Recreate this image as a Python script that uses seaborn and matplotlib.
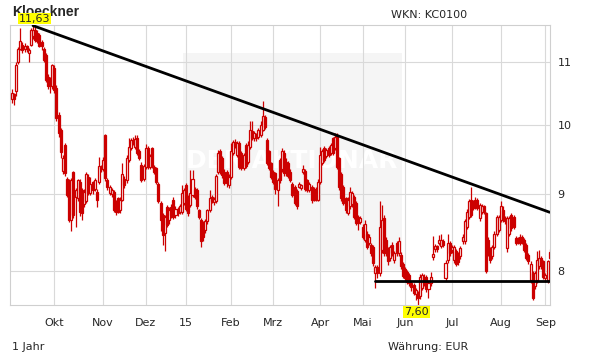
import numpy as np
import pandas as pd
import matplotlib
matplotlib.use('Agg')
import matplotlib.pyplot as plt
import seaborn as sns
from matplotlib.ticker import NullLocator
from matplotlib.patches import Rectangle

# Kloeckner daily candles, 3 Sep 2014 - 3 Sep 2015
opens = [
    10.40, 10.48, 10.52, 11.00, 11.22, 11.30, 11.22, 11.27, 11.15, 11.30,
    11.45, 11.56, 11.50, 11.47, 11.34, 11.22, 11.12, 10.76, 10.74, 10.60,
    10.90, 10.58, 10.15, 9.92, 9.32, 9.70, 9.21, 9.16, 8.65, 9.30,
    8.96, 8.94, 9.17, 9.05, 8.86, 8.90, 9.24, 9.01, 9.16, 9.07,
    9.03, 9.17, 9.37, 9.35, 9.85, 9.19, 9.01, 9.00, 9.03, 8.90,
    8.94, 8.78, 8.92, 9.21, 9.19, 9.48, 9.65, 9.77, 9.67, 9.80,
    9.60, 9.41, 9.21, 9.38, 9.65, 9.38, 9.65, 9.37, 9.36, 9.14,
    8.87, 8.71, 8.48, 8.82, 8.65, 8.82, 8.92, 8.72, 8.80, 8.76,
    8.76, 8.88, 9.12, 8.96, 8.85, 8.99, 9.07, 9.05, 8.78, 8.65,
    8.60, 8.52, 8.63, 8.78, 8.96, 8.89, 8.90, 9.30, 9.60, 9.50,
    9.31, 9.30, 9.12, 9.24, 9.58, 9.74, 9.55, 9.72, 9.58, 9.36,
    9.70, 9.45, 9.67, 9.90, 9.80, 9.85, 9.82, 9.85, 9.92, 10.12,
    9.77, 9.60, 9.43, 9.31, 9.29, 9.05, 9.48, 9.34, 9.58, 9.45,
    9.43, 9.31, 9.14, 9.10, 9.04, 9.10, 9.08, 9.30, 9.32, 9.19,
    9.05, 9.10, 9.07, 9.07, 8.92, 9.17, 9.43, 9.65, 9.53, 9.65,
    9.58, 9.80, 9.65, 9.85, 9.50, 9.27, 9.09, 8.94, 8.74, 8.83,
    8.86, 8.96, 8.87, 8.69, 8.62, 8.56, 8.39, 8.47, 8.35, 8.33,
    8.30, 7.97, 8.05, 7.97, 8.26, 8.67, 8.39, 8.26, 8.16, 8.33,
    8.14, 8.35, 8.22, 8.20, 8.09, 8.03, 7.99, 7.95, 7.85, 7.83,
    7.72, 7.74, 7.70, 7.80, 7.93, 7.93, 7.78, 7.85, 8.17, 8.27,
    8.31, 8.35, 8.31, 8.37, 7.92,
    8.14, 8.35, 8.26, 8.14, 8.25, 8.22, 8.18, 8.37, 8.37, 8.56,
    8.69, 8.92, 8.90, 8.92, 8.92, 8.67, 8.76, 8.83, 8.74, 8.39,
    8.28, 8.18, 8.30, 8.47, 8.52, 8.65, 8.78, 8.67, 8.28, 8.47,
    8.71, 8.69, 8.41, 8.41, 8.43, 8.43, 8.39, 8.33, 8.20, 7.89,
    7.97, 7.82, 7.89, 8.06, 8.16, 8.12, 7.91, 7.89, 8.24,
]
highs = [
    10.56, 10.50, 11.00, 11.25, 11.58, 11.34, 11.32, 11.30, 11.24, 11.58,
    11.63, 11.60, 11.55, 11.50, 11.37, 11.25, 11.15, 10.80, 10.76, 10.97,
    10.95, 10.62, 10.20, 9.95, 9.55, 9.72, 9.24, 9.20, 9.22, 9.32,
    9.08, 9.21, 9.20, 9.08, 9.06, 9.30, 9.27, 9.24, 9.18, 9.22,
    9.06, 9.52, 9.40, 9.52, 9.86, 9.22, 9.12, 9.08, 9.05, 8.92,
    8.96, 8.95, 9.43, 9.25, 9.55, 9.80, 9.80, 9.82, 9.84, 9.84,
    9.64, 9.44, 9.42, 9.71, 9.68, 9.56, 9.67, 9.40, 9.38, 9.16,
    8.90, 8.74, 8.72, 8.85, 8.82, 8.86, 8.95, 8.83, 8.82, 8.86,
    9.12, 9.08, 9.15, 8.98, 9.33, 9.33, 9.10, 9.08, 8.80, 8.68,
    8.63, 8.66, 8.80, 9.05, 8.98, 8.96, 9.28, 9.62, 9.63, 9.53,
    9.34, 9.33, 9.28, 9.72, 9.77, 9.78, 9.75, 9.75, 9.60, 9.58,
    9.72, 9.75, 10.06, 10.06, 9.90, 9.88, 9.95, 10.06, 10.37, 10.15,
    9.80, 9.62, 9.45, 9.33, 9.30, 9.22, 9.50, 9.65, 9.62, 9.50,
    9.46, 9.34, 9.17, 9.12, 9.07, 9.16, 9.14, 9.40, 9.34, 9.21,
    9.16, 9.12, 9.10, 9.10, 9.20, 9.67, 9.63, 9.68, 9.65, 9.68,
    9.73, 9.82, 9.87, 9.87, 9.52, 9.30, 9.12, 8.96, 8.95, 9.10,
    9.04, 8.99, 8.90, 8.72, 8.70, 8.59, 8.65, 8.50, 8.46, 8.35,
    8.32, 8.08, 8.07, 8.90, 8.85, 8.72, 8.42, 8.30, 8.33, 8.36,
    8.25, 8.38, 8.42, 8.23, 8.11, 8.05, 8.01, 7.97, 7.88, 7.85,
    7.80, 7.76, 7.96, 7.98, 7.96, 7.95, 7.88, 7.99, 8.44, 8.34,
    8.33, 8.45, 8.47, 8.40, 8.13,
    8.46, 8.38, 8.33, 8.33, 8.27, 8.24, 8.31, 8.46, 8.66, 8.79,
    8.93, 9.10, 8.92, 8.95, 8.94, 8.88, 8.86, 8.85, 8.76, 8.42,
    8.30, 8.33, 8.50, 8.72, 8.72, 8.90, 8.83, 8.70, 8.70, 8.70,
    8.74, 8.72, 8.44, 8.43, 8.46, 8.45, 8.41, 8.35, 8.22, 8.12,
    8.00, 8.00, 8.25, 8.26, 8.19, 8.14, 7.97, 8.14, 8.27,
]
lows = [
    10.34, 10.30, 10.45, 10.97, 11.20, 11.15, 11.18, 11.18, 11.00, 11.28,
    11.40, 11.35, 11.32, 11.25, 11.20, 11.00, 10.68, 10.56, 10.50, 10.56,
    10.50, 10.05, 9.82, 9.50, 9.28, 9.25, 8.95, 8.62, 8.50, 8.68,
    8.56, 8.90, 8.70, 8.65, 8.82, 8.87, 8.98, 8.98, 9.00, 9.04,
    8.82, 9.14, 9.30, 9.32, 9.18, 9.05, 8.98, 8.96, 8.75, 8.72,
    8.74, 8.74, 8.90, 9.08, 9.15, 9.45, 9.62, 9.70, 9.64, 9.55,
    9.47, 9.16, 9.18, 9.35, 9.35, 9.35, 9.36, 9.28, 9.14, 8.87,
    8.50, 8.33, 8.25, 8.55, 8.60, 8.68, 8.66, 8.68, 8.70, 8.73,
    8.73, 8.85, 8.77, 8.70, 8.82, 8.96, 8.93, 8.80, 8.66, 8.30,
    8.38, 8.48, 8.60, 8.75, 8.87, 8.85, 8.87, 9.27, 9.28, 9.22,
    9.12, 9.10, 9.08, 9.20, 9.55, 9.65, 9.52, 9.35, 9.33, 9.33,
    9.36, 9.42, 9.64, 9.77, 9.76, 9.76, 9.78, 9.82, 9.90, 9.94,
    9.40, 9.33, 9.20, 9.13, 9.00, 8.83, 9.15, 9.30, 9.25, 9.25,
    9.22, 9.16, 8.96, 8.85, 8.79, 9.08, 9.05, 9.27, 9.04, 9.02,
    9.02, 8.88, 8.90, 8.90, 8.90, 9.14, 9.40, 9.45, 9.50, 9.52,
    9.55, 9.55, 9.62, 9.35, 9.05, 8.90, 8.85, 8.74, 8.72, 8.80,
    8.82, 8.66, 8.58, 8.52, 8.60, 8.40, 8.36, 8.27, 8.32, 8.19,
    8.06, 7.79, 7.92, 7.94, 8.22, 8.18, 8.18, 8.08, 8.12, 8.19,
    8.10, 8.19, 8.19, 8.03, 7.91, 7.88, 7.84, 7.82, 7.76, 7.71,
    7.65, 7.60, 7.67, 7.77, 7.82, 7.75, 7.68, 7.82, 8.14, 8.24,
    8.24, 8.32, 8.28, 8.30, 7.88,
    8.10, 8.19, 8.22, 8.10, 8.06, 8.08, 8.15, 8.34, 8.34, 8.53,
    8.66, 8.69, 8.78, 8.80, 8.78, 8.64, 8.73, 8.73, 7.98, 8.18,
    8.10, 8.15, 8.27, 8.44, 8.49, 8.62, 8.62, 8.60, 8.24, 8.44,
    8.50, 8.53, 8.32, 8.34, 8.32, 8.34, 8.23, 8.13, 8.09, 7.86,
    7.66, 7.78, 7.86, 8.03, 8.03, 7.90, 7.87, 7.86, 8.13,
]
closes = [
    10.50, 10.40, 10.95, 11.23, 11.36, 11.20, 11.28, 11.22, 11.20, 11.56,
    11.55, 11.38, 11.36, 11.27, 11.27, 11.03, 10.71, 10.60, 10.60, 10.95,
    10.55, 10.10, 9.87, 9.59, 9.51, 9.29, 8.98, 8.65, 9.19, 8.72,
    9.05, 9.19, 8.76, 8.74, 9.03, 9.27, 9.01, 9.14, 9.05, 9.19,
    8.92, 9.39, 9.35, 9.48, 9.22, 9.10, 9.10, 9.05, 8.78, 8.76,
    8.76, 8.92, 9.28, 9.12, 9.50, 9.67, 9.77, 9.72, 9.78, 9.58,
    9.50, 9.19, 9.39, 9.65, 9.38, 9.53, 9.39, 9.31, 9.17, 8.90,
    8.65, 8.45, 8.69, 8.58, 8.78, 8.72, 8.69, 8.80, 8.74, 8.83,
    9.01, 9.05, 8.80, 8.74, 9.01, 9.21, 8.96, 8.83, 8.69, 8.37,
    8.42, 8.63, 8.78, 8.94, 8.90, 8.93, 9.25, 9.58, 9.32, 9.26,
    9.15, 9.15, 9.24, 9.60, 9.74, 9.68, 9.72, 9.38, 9.36, 9.55,
    9.39, 9.70, 9.92, 9.80, 9.87, 9.80, 9.92, 9.99, 10.14, 9.97,
    9.43, 9.36, 9.24, 9.17, 9.07, 9.19, 9.19, 9.60, 9.29, 9.29,
    9.25, 9.19, 8.99, 8.88, 8.83, 9.14, 9.12, 9.35, 9.07, 9.05,
    9.14, 8.92, 8.92, 8.94, 9.17, 9.55, 9.60, 9.48, 9.62, 9.55,
    9.70, 9.58, 9.82, 9.38, 9.10, 8.94, 8.88, 8.78, 8.92, 9.03,
    9.01, 8.69, 8.61, 8.61, 8.67, 8.43, 8.60, 8.30, 8.43, 8.22,
    8.10, 8.05, 7.97, 8.56, 8.65, 8.22, 8.22, 8.12, 8.30, 8.22,
    8.22, 8.22, 8.37, 8.06, 7.94, 7.91, 7.87, 7.85, 7.81, 7.74,
    7.77, 7.68, 7.93, 7.95, 7.85, 7.78, 7.86, 7.93, 8.21, 8.31,
    8.27, 8.39, 8.39, 8.33, 8.10,
    8.35, 8.22, 8.30, 8.30, 8.09, 8.11, 8.29, 8.43, 8.63, 8.76,
    8.90, 8.72, 8.81, 8.83, 8.81, 8.85, 8.83, 8.76, 8.00, 8.22,
    8.14, 8.30, 8.47, 8.69, 8.69, 8.83, 8.65, 8.63, 8.67, 8.67,
    8.54, 8.56, 8.35, 8.37, 8.35, 8.37, 8.26, 8.16, 8.12, 8.09,
    7.68, 7.97, 8.14, 8.16, 8.06, 7.93, 7.95, 8.12, 8.16,
]

month_labels = ['Okt', 'Nov', 'Dez', '15', 'Feb', 'Mrz', 'Apr', 'Mai', 'Jun', 'Jul', 'Aug', 'Sep']
price_ticks = [8, 9, 10, 11]
holidays = ['2014-12-24', '2014-12-25', '2014-12-26', '2014-12-31', '2015-01-01',
            '2015-04-03', '2015-04-06', '2015-05-01']

# trend lines drawn on the chart
resistance_end = 8.75
support_level = 7.88
support_start = '2015-05-12'

N = len(closes)
dates = pd.bdate_range(end='2015-09-03', periods=N, freq='C', holidays=holidays)
df = pd.DataFrame({'date': dates, 'open': opens, 'high': highs, 'low': lows, 'close': closes})
df['pos'] = np.arange(N)

months = dates.to_period('M')
month_pos = [i for i in range(1, N) if months[i] != months[i - 1]]

sns.set_style('white')
plt.rcParams['font.family'] = ['DejaVu Sans']

fig = plt.figure(figsize=(6.11, 3.64), dpi=100)
ax = fig.add_axes([10.3 / 611, 59 / 364, 539.7 / 611, 280 / 364])
ax.set_yscale('log')

red = '#cc0000'
up = df['close'] >= df['open']

# watermark block
ax.add_patch(Rectangle((0.32, 0.125), 0.405, 0.776, transform=ax.transAxes,
                       facecolor='#f5f5f5', edgecolor='none', zorder=0.1))
ax.text(0.522, 0.515, 'DER AKTIONÄR', transform=ax.transAxes, ha='center', va='center',
        fontsize=18, fontweight='bold', color='white', zorder=0.3)

ax.vlines(df['pos'], df['low'], df['high'], color=red, lw=0.9, zorder=2)
ax.bar(df['pos'], (df['close'] - df['open']).abs(), bottom=df[['open', 'close']].min(axis=1),
       width=0.95, color=np.where(up, 'white', red), edgecolor=red, linewidth=0.9, zorder=3)

i_hi = int(df['high'].idxmax())
i_lo = int(df['low'].idxmin())
x_right = N - 1 + 0.15
sup_pos = int(np.searchsorted(dates, pd.Timestamp(support_start)))

sns.lineplot(x=[i_hi, N - 1], y=[df['high'].max(), resistance_end], color='black',
             lw=2, ax=ax, zorder=4)
sns.lineplot(x=[sup_pos, x_right], y=[support_level, support_level], color='black',
             lw=2, ax=ax, zorder=4)

ax.annotate(f"{df['high'].max():.2f}".replace('.', ','),
            xy=(i_hi, df['high'].max()), xytext=(1, 1.5), textcoords='offset points',
            ha='center', va='bottom', fontsize=8, annotation_clip=False, zorder=6,
            bbox=dict(boxstyle='square,pad=0.08', fc='#ffff00', ec='none'))
ax.annotate(f"{df['low'].min():.2f}".replace('.', ','),
            xy=(i_lo, df['low'].min()), xytext=(-1, -1.5), textcoords='offset points',
            ha='center', va='top', fontsize=8, annotation_clip=False, zorder=6,
            bbox=dict(boxstyle='square,pad=0.08', fc='#ffff00', ec='none'))

ax.set_xlim(-0.7, x_right)
ax.set_ylim(df['low'].min() * 0.9995, df['high'].max() * 1.001)

ax.set_xticks(month_pos)
ax.set_xticklabels(month_labels)
ax.set_yticks(price_ticks)
ax.set_yticklabels([str(t) for t in price_ticks])
ax.yaxis.set_minor_locator(NullLocator())
ax.yaxis.tick_right()
ax.tick_params(axis='x', length=0, pad=9, labelsize=8)
ax.tick_params(axis='y', length=0, pad=5.5, labelsize=8)

ax.set_axisbelow(True)
ax.grid(True, color='#d9d9d9', lw=0.8)
for s in ax.spines.values():
    s.set_color('#cfcfcf')
    s.set_linewidth(0.8)
ax.set_xlabel('')
ax.set_ylabel('')

# title sits under the yellow high label, as in the original
fig.text(12 / 611, 1 - 12 / 364, 'Kloeckner', fontsize=10, fontweight='bold',
         family='Liberation Sans', va='center', ha='left', zorder=-1)
fig.text(391 / 611, 1 - 14.5 / 364, 'WKN: KC0100', fontsize=8, va='center', ha='left')
fig.text(12 / 611, 1 - 347 / 364, '1 Jahr', fontsize=8, va='center', ha='left')
fig.text(388 / 611, 1 - 347 / 364, 'Währung: EUR', fontsize=8, va='center', ha='left')

fig.savefig('out.png', dpi=100)
